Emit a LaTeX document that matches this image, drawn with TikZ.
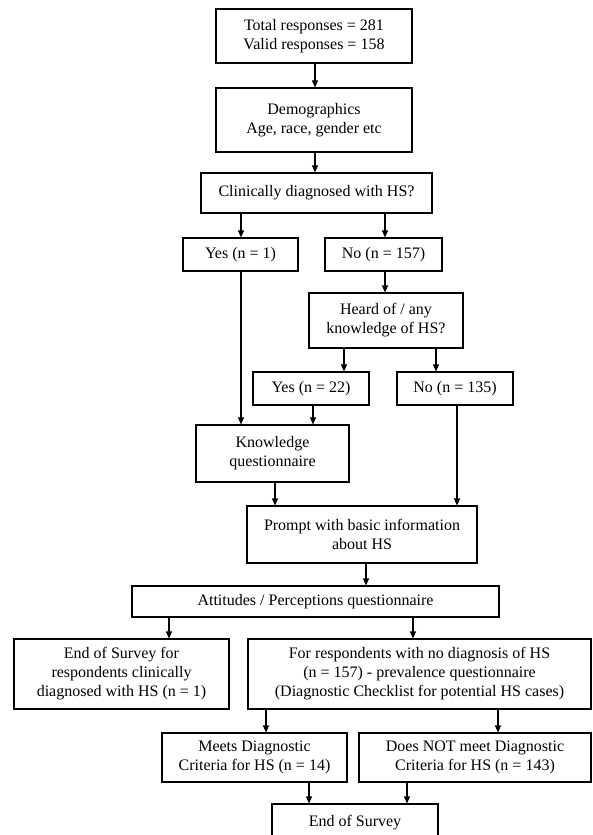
\documentclass[tikz,border=0pt]{standalone}
\usepackage{fontspec}
\setmainfont{Liberation Serif}
\usetikzlibrary{arrows.meta}
\begin{document}
\begin{tikzpicture}[x=1pt,y=-1pt,
  box/.style={draw,line width=1.1pt,inner sep=0pt,align=center,font=\fontsize{16}{19}\selectfont},
  arr/.style={line width=1.1pt,-{Triangle[length=7pt,width=6pt]}},
  ln/.style={line width=1.1pt}]
\useasboundingbox (0,0) rectangle (592,835);
\node[box,minimum width=196,minimum height=54] (total) at (314,36) {Total responses = 281\\Valid responses = 158};
\node[box,minimum width=196,minimum height=64] (demo) at (314,120) {Demographics\\Age, race, gender etc};
\node[box,minimum width=231,minimum height=40] (clin) at (316.5,193) {Clinically diagnosed with HS?};
\node[box,minimum width=115,minimum height=33] (yes1) at (240.5,254.5) {Yes (n = 1)};
\node[box,minimum width=117,minimum height=33] (no157) at (383.5,254.5) {No (n = 157)};
\node[box,minimum width=154,minimum height=55] (heard) at (386,320.5) {Heard of / any\\knowledge of HS?};
\node[box,minimum width=116,minimum height=33] (yes22) at (311,388.5) {Yes (n = 22)};
\node[box,minimum width=116,minimum height=33] (no135) at (455,388.5) {No (n = 135)};
\node[box,minimum width=153,minimum height=57] (know) at (272.5,453.5) {Knowledge\\questionnaire};
\node[box,minimum width=230,minimum height=57] (prompt) at (362,534.5) {Prompt with basic information\\about HS};
\node[box,minimum width=367,minimum height=31] (att) at (315.5,601.5) {Attitudes / Perceptions questionnaire};
\node[box,minimum width=215,minimum height=70] (endfor) at (121.5,674) {End of Survey for\\respondents clinically\\diagnosed with HS (n = 1)};
\node[box,minimum width=343,minimum height=70] (forresp) at (419.5,674) {For respondents with no diagnosis of HS\\(n = 157) - prevalence questionnaire\\(Diagnostic Checklist for potential HS cases)};
\node[box,minimum width=185,minimum height=49] (meets) at (254.5,757.5) {Meets Diagnostic\\Criteria for HS (n = 14)};
\node[box,minimum width=232,minimum height=49] (doesnot) at (475,757.5) {Does NOT meet Diagnostic\\Criteria for HS (n = 143)};
\node[box,minimum width=166,minimum height=38] (endsurv) at (355,823) {End of Survey};
\draw[arr] (total.south -| 315,0) -- (demo.north -| 315,0);
\draw[arr] (demo.south -| 315,0) -- (clin.north -| 315,0);
\draw[arr] (clin.south -| 241,0) -- (yes1.north -| 241,0);
\draw[arr] (clin.south -| 385,0) -- (no157.north -| 385,0);
\draw[arr] (yes1.south -| 241,0) -- (know.north -| 241,0);
\draw[arr] (no157.south -| 385,0) -- (heard.north -| 385,0);
\draw[arr] (heard.south -| 344,0) -- (yes22.north -| 344,0);
\draw[arr] (heard.south -| 436,0) -- (no135.north -| 436,0);
\draw[arr] (yes22.south -| 313,0) -- (know.north -| 313,0);
\draw[arr] (know.south -| 275,0) -- (prompt.north -| 275,0);
\draw[arr] (no135.south -| 457,0) -- (prompt.north -| 457,0);
\draw[arr] (prompt.south -| 366,0) -- (att.north -| 366,0);
\draw[arr] (att.south -| 169,0) -- (endfor.north -| 169,0);
\draw[arr] (att.south -| 413,0) -- (forresp.north -| 413,0);
\draw[arr] (forresp.south -| 266,0) -- (meets.north -| 266,0);
\draw[arr] (forresp.south -| 498,0) -- (doesnot.north -| 498,0);
\draw[arr] (meets.south -| 309,0) -- (endsurv.north -| 309,0);
\draw[arr] (doesnot.south -| 407,0) -- (endsurv.north -| 407,0);
\end{tikzpicture}
\end{document}
